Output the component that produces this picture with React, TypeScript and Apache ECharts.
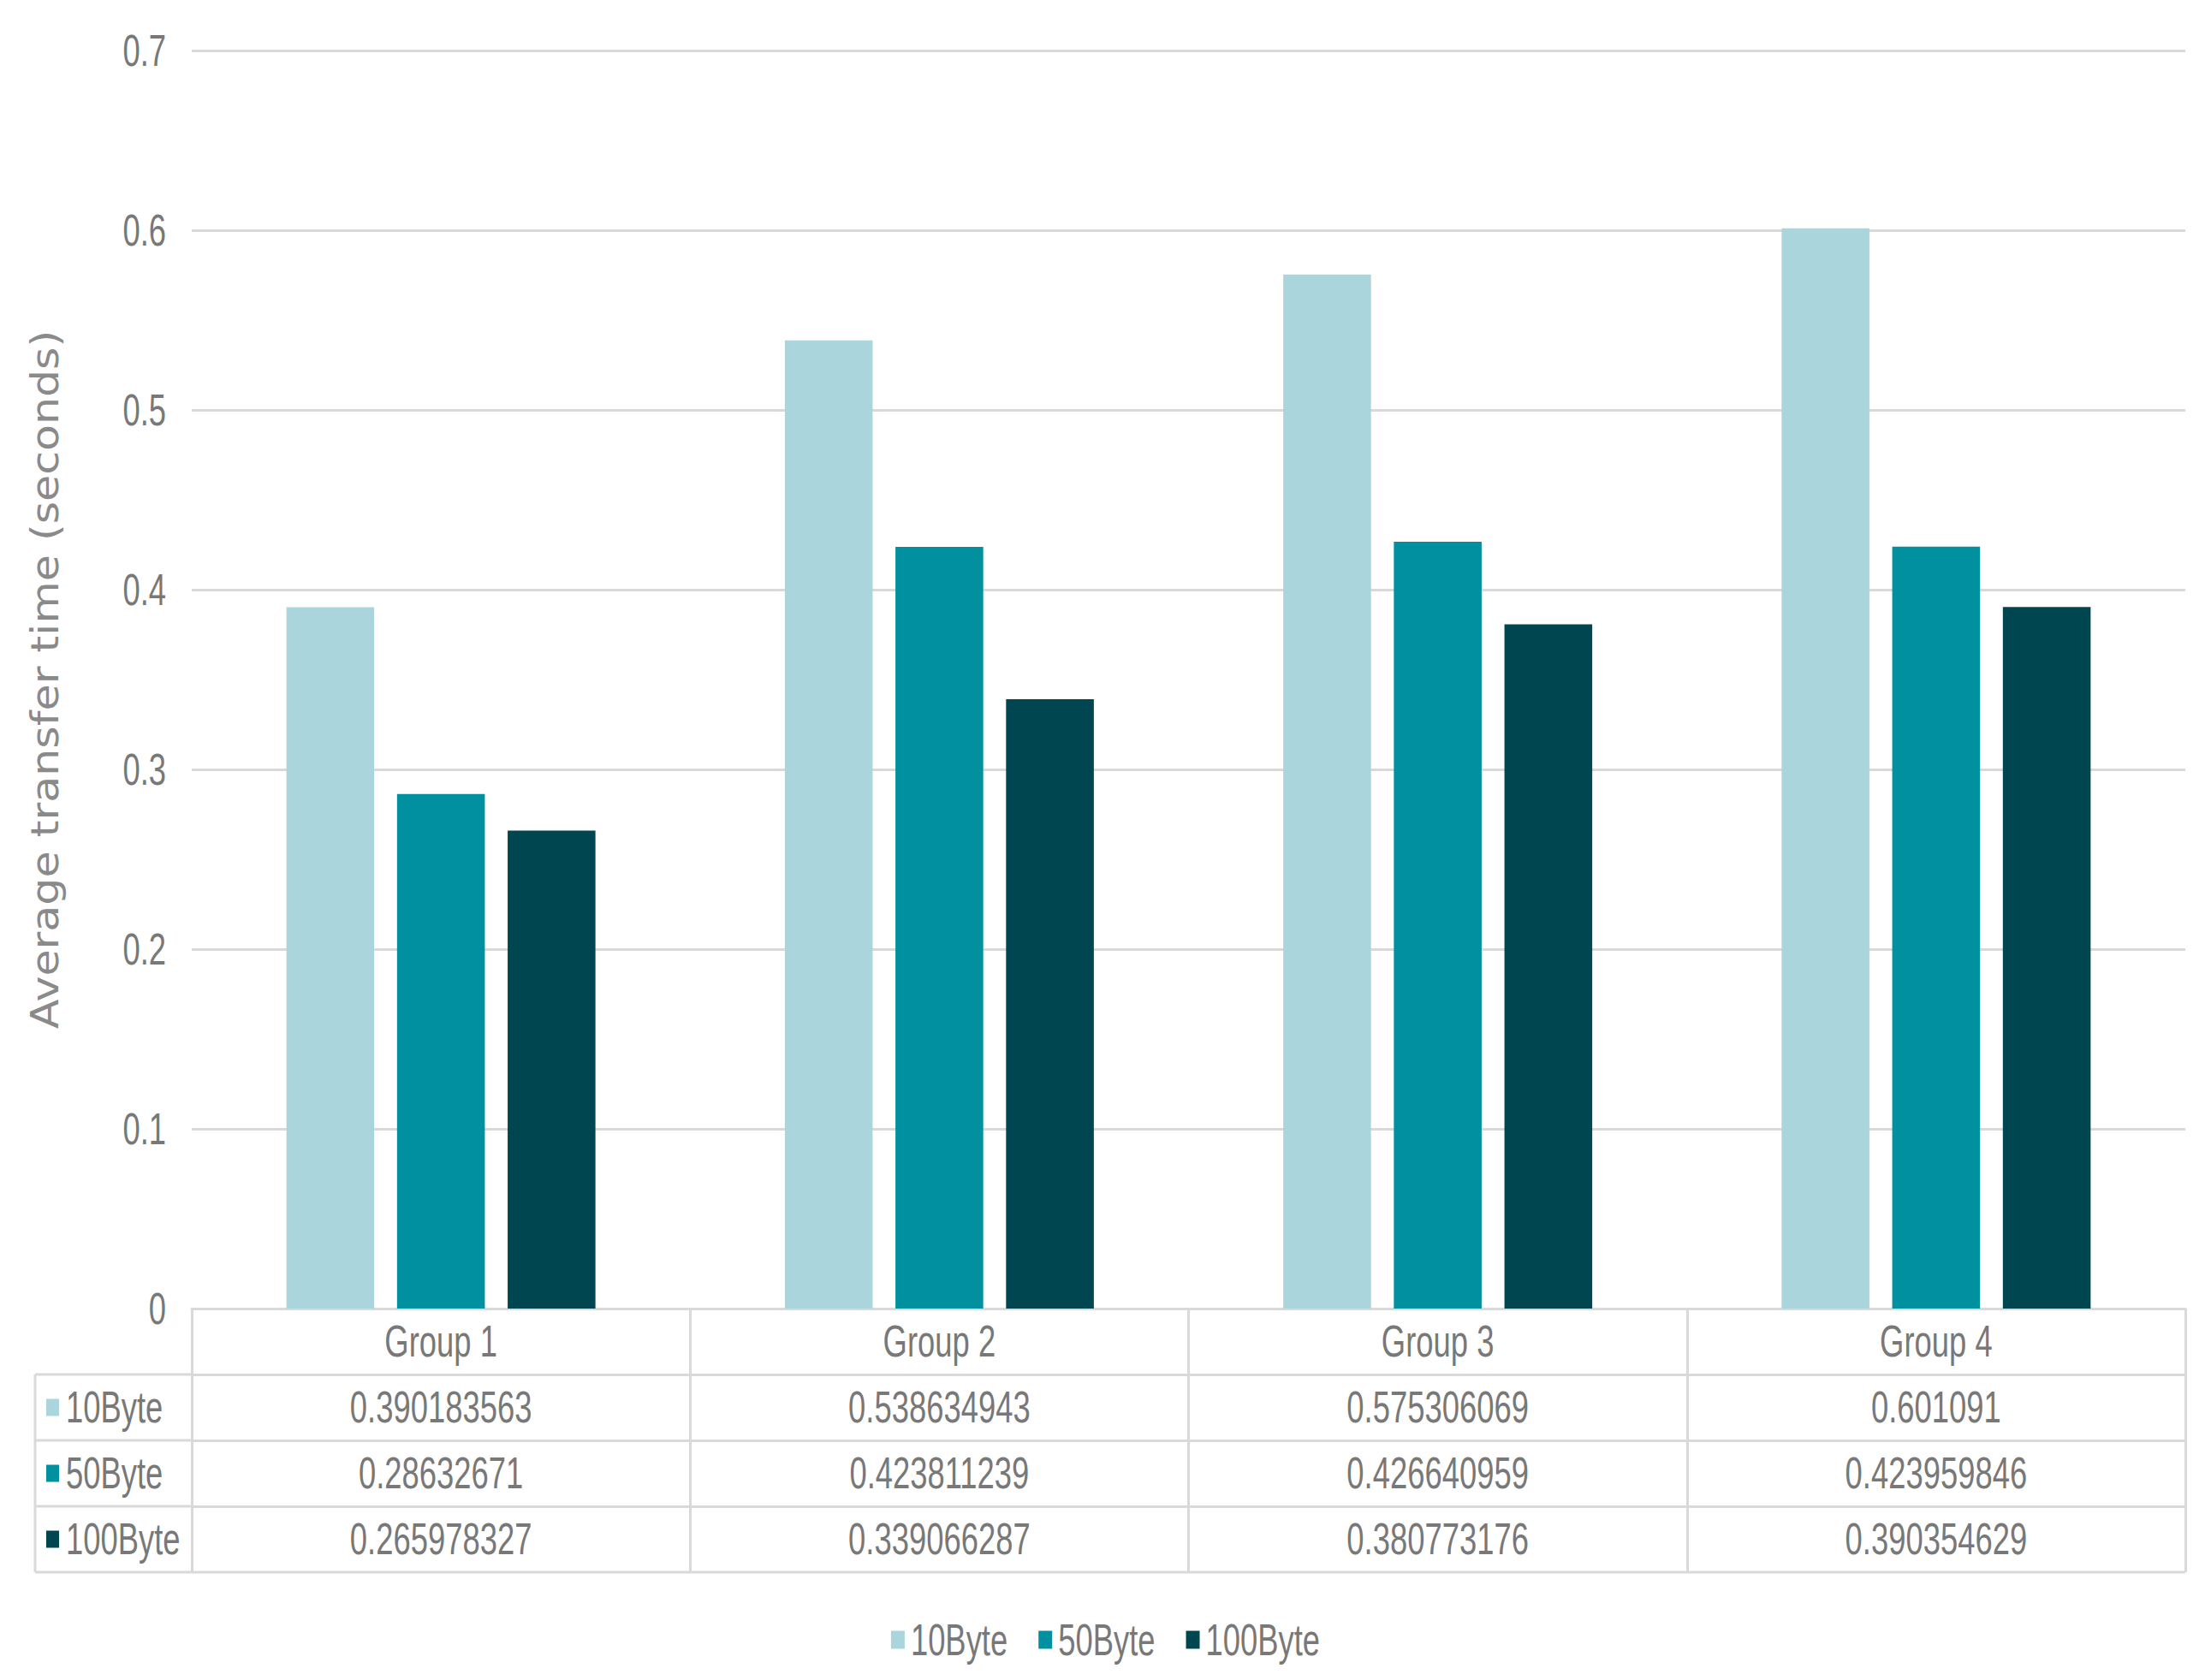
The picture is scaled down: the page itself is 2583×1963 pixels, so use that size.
import React, { useEffect, useRef } from "react";
import * as echarts from "echarts";

const categories = ["Group 1", "Group 2", "Group 3", "Group 4"];
const seriesNames = ["10Byte", "50Byte", "100Byte"];
const values10 = [0.390183563, 0.538634943, 0.575306069, 0.601091];
const values50 = [0.28632671, 0.423811239, 0.426640959, 0.423959846];
const values100 = [0.265978327, 0.339066287, 0.380773176, 0.390354629];
const yTicks = [0, 0.1, 0.2, 0.3, 0.4, 0.5, 0.6, 0.7];
const yTickLabels = ["0", "0.1", "0.2", "0.3", "0.4", "0.5", "0.6", "0.7"];
const yTitle = "Average transfer time (seconds)";

const seriesValues = [values10, values50, values100];
const colors = ["#abd5dc", "#0090a0", "#004651"];

const W = 2583;
const H = 1963;
const GRID_LEFT = 224;
const GRID_RIGHT = 30;
const GRID_TOP = 59;
const GRID_BOTTOM_Y = 1529;
const ROW_H = 77;
const TABLE_LEFT = 41;
const FONT = "'Liberation Sans', Arial, sans-serif";
const FS = 52;
const SX = 0.7;
const TEXT_COLOR = "#787878";
const LINE_COLOR = "#d9d9d9";
const LINE_W = 3;
const LEGEND_Y = 1916;

function measure(text: string, font: string): number {
  const c = document.createElement("canvas");
  const ctx = c.getContext("2d");
  if (!ctx) return text.length * 25;
  ctx.font = font;
  return ctx.measureText(text).width;
}

function narrowText(text: string, x: number, y: number, align: string) {
  return {
    type: "text",
    x,
    y,
    scaleX: SX,
    scaleY: 1,
    z: 20,
    style: {
      text,
      font: `${FS}px ${FONT}`,
      fill: TEXT_COLOR,
      textAlign: align,
      textVerticalAlign: "middle",
    },
  };
}

export default function App() {
  const ref = useRef<HTMLDivElement>(null);
  useEffect(() => {
    if (!ref.current) return;
    const chart = echarts.init(ref.current, undefined, { renderer: "svg" });

    const rowAxes = seriesValues.map((vals, i) => ({
      type: "category",
      gridIndex: 0,
      position: "bottom",
      offset: ROW_H * (i + 1),
      data: vals.map((v) => String(v)),
      boundaryGap: true,
      axisLine: { show: true, lineStyle: { color: LINE_COLOR, width: LINE_W } },
      axisTick: { show: true, interval: 0, length: ROW_H, lineStyle: { color: LINE_COLOR, width: LINE_W } },
      axisLabel: { show: false },
      splitLine: { show: false },
    }));

    chart.setOption({
      animation: false,
      backgroundColor: "#ffffff",
      grid: {
        left: GRID_LEFT,
        right: GRID_RIGHT,
        top: GRID_TOP,
        bottom: H - GRID_BOTTOM_Y,
        containLabel: false,
      },
      xAxis: [
        {
          type: "category",
          gridIndex: 0,
          position: "bottom",
          data: categories,
          boundaryGap: true,
          axisLine: { show: true, lineStyle: { color: LINE_COLOR, width: LINE_W } },
          axisTick: { show: true, interval: 0, length: ROW_H, lineStyle: { color: LINE_COLOR, width: LINE_W } },
          axisLabel: { show: false },
        },
        ...rowAxes,
      ],
      yAxis: {
        type: "value",
        min: yTicks[0],
        max: yTicks[yTicks.length - 1],
        interval: yTicks[1] - yTicks[0],
        axisLine: { show: false },
        axisTick: { show: false },
        axisLabel: { show: false },
        splitLine: { show: true, lineStyle: { color: LINE_COLOR, width: LINE_W } },
      },
      series: seriesNames.map((name, i) => ({
        name,
        type: "bar",
        xAxisIndex: 0,
        yAxisIndex: 0,
        data: seriesValues[i],
        barGap: "26%",
        barCategoryGap: "38%",
        itemStyle: { color: colors[i] },
      })),
    });

    // Positions from the library's own scales
    const y0 = chart.convertToPixel({ yAxisIndex: 0 }, 0) as number;
    const yTop = chart.convertToPixel({ yAxisIndex: 0 }, yTicks[yTicks.length - 1]) as number;
    const xLeft = chart.convertToPixel({ xAxisIndex: 0 }, 0) as number;
    const xRight = chart.convertToPixel({ xAxisIndex: 0 }, categories.length - 1) as number;
    const band = (xRight - xLeft) / (categories.length - 1);
    const plotLeft = xLeft - band / 2;
    const plotRight = xRight + band / 2;

    const graphics: any[] = [];

    // y tick labels
    yTicks.forEach((v, i) => {
      const y = chart.convertToPixel({ yAxisIndex: 0 }, v) as number;
      graphics.push(narrowText(yTickLabels[i], plotLeft - 30, y, "right"));
    });

    // y axis title
    graphics.push({
      type: "text",
      x: 53,
      y: (y0 + yTop) / 2,
      rotation: Math.PI / 2,
      scaleX: 1.15,
      z: 20,
      style: {
        text: yTitle,
        font: "44px 'DejaVu Sans', sans-serif",
        fill: "#8a8a8a",
        textAlign: "center",
        textVerticalAlign: "middle",
      },
    });

    // header row: category labels
    categories.forEach((c, i) => {
      const x = chart.convertToPixel({ xAxisIndex: 0 }, i) as number;
      graphics.push(narrowText(c, x, y0 + ROW_H / 2, "center"));
    });

    // data rows
    seriesValues.forEach((vals, r) => {
      const cy = y0 + ROW_H * (r + 1) + ROW_H / 2;
      vals.forEach((v, i) => {
        const x = chart.convertToPixel({ xAxisIndex: r + 1 }, i) as number;
        graphics.push(narrowText(String(v), x, cy, "center"));
      });
      graphics.push({
        type: "rect",
        shape: { x: 54, y: cy - 10, width: 15, height: 20 },
        style: { fill: colors[r] },
        z: 20,
      });
      graphics.push(narrowText(seriesNames[r], 77, cy, "left"));
    });

    // table borders for the row-header column and bottom
    for (let k = 1; k <= 4; k++) {
      const y = y0 + ROW_H * k;
      graphics.push({
        type: "line",
        shape: { x1: TABLE_LEFT, y1: y, x2: k === 4 ? plotRight : plotLeft, y2: y },
        style: { stroke: LINE_COLOR, lineWidth: LINE_W },
        z: 10,
      });
    }
    graphics.push({
      type: "line",
      shape: { x1: TABLE_LEFT, y1: y0 + ROW_H, x2: TABLE_LEFT, y2: y0 + ROW_H * 4 },
      style: { stroke: LINE_COLOR, lineWidth: LINE_W },
      z: 10,
    });

    // legend
    const font = `${FS}px ${FONT}`;
    const SQ_W = 16;
    const SQ_H = 21;
    const TXT_GAP = 7;
    const ITEM_GAP = 36;
    const widths = seriesNames.map((n) => SQ_W + TXT_GAP + measure(n, font) * SX);
    const total = widths.reduce((a, b) => a + b, 0) + ITEM_GAP * (seriesNames.length - 1);
    let lx = W / 2 - total / 2;
    seriesNames.forEach((n, i) => {
      graphics.push({
        type: "rect",
        shape: { x: lx, y: LEGEND_Y - SQ_H / 2, width: SQ_W, height: SQ_H },
        style: { fill: colors[i] },
        z: 20,
      });
      graphics.push(narrowText(n, lx + SQ_W + TXT_GAP, LEGEND_Y, "left"));
      lx += widths[i] + ITEM_GAP;
    });

    chart.setOption({ graphic: graphics });
    return () => chart.dispose();
  }, []);
  return (
    <div
      ref={ref}
      style={{ position: "fixed", left: 0, top: 0, width: W, height: H, background: "#fff" }}
    />
  );
}
